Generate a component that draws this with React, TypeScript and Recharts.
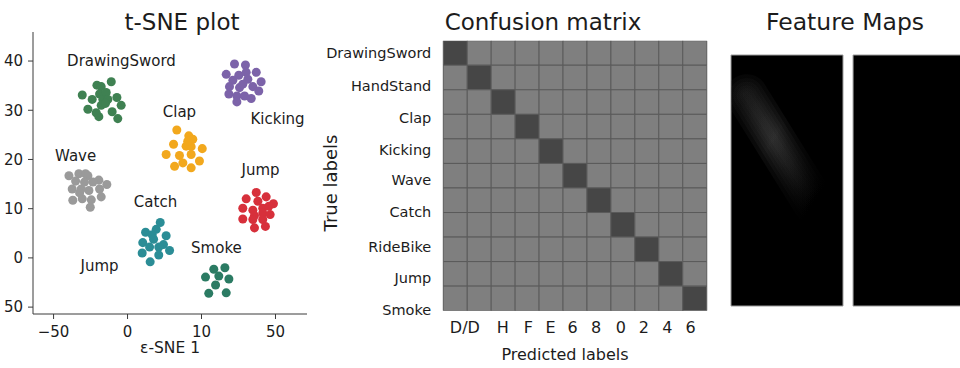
import {
  Bar,
  BarChart,
  Cell,
  ComposedChart,
  Line,
  ReferenceArea,
  Scatter,
  ScatterChart,
  XAxis,
  YAxis,
  ZAxis,
} from 'recharts';

// t-SNE clusters
const DRAWING_SWORD = [
  [-30.6, 33.1], [-26.8, 30.2], [-23.9, 32.2], [-20.7, 35.1], [-17.8, 34.8], [-18.9, 33.3],
  [-14.4, 33.6], [-11.0, 35.8], [-16.7, 32.2], [-13.3, 32.2], [-7.2, 32.6], [-4.3, 31.0],
  [-10.4, 29.7], [-6.6, 28.3], [-19.4, 28.7], [-17.8, 31.0], [-21.2, 29.5], [-14.9, 31.4],
];
const KICKING = [
  [72.3, 39.4], [79.7, 39.2], [66.7, 37.3], [71.2, 36.1], [75.2, 37.1], [80.2, 37.7],
  [87.0, 37.7], [68.9, 34.8], [75.7, 34.6], [81.3, 36.3], [84.7, 34.8], [90.3, 35.8],
  [88.7, 33.9], [68.5, 33.3], [73.9, 32.9], [79.1, 32.9], [83.6, 32.4], [73.9, 31.7], [77.9, 35.3],
];
const CLAP = [
  [33.3, 26.0], [41.4, 24.8], [44.1, 24.1], [31.1, 23.1], [39.6, 22.7], [43.0, 22.6],
  [50.5, 22.2], [26.1, 21.0], [35.1, 20.8], [43.0, 21.0], [48.6, 19.7], [31.8, 18.6],
  [37.4, 19.3], [43.0, 18.3], [40.7, 23.7],
];
const WAVE = [
  [-39.6, 16.7], [-32.9, 17.1], [-28.4, 17.1], [-26.8, 16.7], [-19.4, 15.8], [-14.0, 14.9],
  [-35.1, 15.6], [-29.1, 15.4], [-23.4, 15.4], [-37.4, 14.0], [-31.3, 14.0], [-26.1, 13.7],
  [-18.9, 14.0], [-37.0, 11.7], [-30.6, 12.0], [-24.5, 11.8], [-17.8, 12.4], [-25.2, 10.3], [-32.4, 13.2],
];
const JUMP = [
  [87.0, 13.3], [93.7, 12.4], [80.2, 12.0], [88.1, 11.5], [98.6, 11.0], [77.9, 10.1],
  [84.7, 9.7], [91.4, 10.1], [95.5, 10.5], [85.8, 8.6], [91.4, 9.1], [96.4, 8.8],
  [77.9, 7.9], [84.7, 7.8], [91.4, 7.8], [85.8, 6.1], [93.2, 6.4],
];
const CATCH = [
  [22.1, 7.2], [19.4, 5.8], [12.2, 5.2], [16.7, 4.7], [26.1, 4.5], [10.3, 3.1], [17.6, 3.8],
  [24.3, 2.7], [14.9, 2.2], [21.1, 2.2], [28.4, 1.5], [9.9, 1.0], [21.1, 0.6], [15.3, -0.8],
];
const SMOKE = [
  [58.3, -2.3], [65.8, -2.0], [52.7, -3.9], [61.7, -3.7], [68.5, -4.3], [59.5, -5.5],
  [54.9, -7.2], [66.7, -7.1],
];

const CLUSTER_NAMES = ['DrawingSword', 'Kicking', 'Clap', 'Wave', 'Jump', 'Catch', 'Smoke'];
const CLUSTER_COLORS = ['#3f8152', '#7c63a9', '#f2a81d', '#9a9a9a', '#d7303b', '#2b8d96', '#2b7b63'];
const CLUSTER_POINTS = [DRAWING_SWORD, KICKING, CLAP, WAVE, JUMP, CATCH, SMOKE];

const TSNE_LABELS = [
  { name: 'DrawingSword', x: -4.1, y: 40.0 },
  { name: 'Clap', x: 35.1, y: 29.6 },
  { name: 'Kicking', x: 101.4, y: 28.2 },
  { name: 'Wave', x: -35.1, y: 20.8 },
  { name: 'Jump', x: 89.9, y: 17.8 },
  { name: 'Catch', x: 18.9, y: 11.4 },
  { name: 'Smoke', x: 60.1, y: 2.0 },
  { name: 'Jump', x: -18.9, y: -1.6 },
];

const TSNE_X_TICKS = [-50, 0, 50, 100];
const TSNE_X_LABELS = ['\u221250', '0', '10', '50'];
const TSNE_Y_TICKS = [-10, 0, 10, 20, 30, 40];
const TSNE_Y_LABELS = ['50', '0', '10', '20', '30', '40'];

// confusion matrix (1 = strong, 0 = weak)
const MATRIX = [
  [1, 0, 0, 0, 0, 0, 0, 0, 0, 0, 0],
  [0, 1, 0, 0, 0, 0, 0, 0, 0, 0, 0],
  [0, 0, 1, 0, 0, 0, 0, 0, 0, 0, 0],
  [0, 0, 0, 1, 0, 0, 0, 0, 0, 0, 0],
  [0, 0, 0, 0, 1, 0, 0, 0, 0, 0, 0],
  [0, 0, 0, 0, 0, 1, 0, 0, 0, 0, 0],
  [0, 0, 0, 0, 0, 0, 1, 0, 0, 0, 0],
  [0, 0, 0, 0, 0, 0, 0, 1, 0, 0, 0],
  [0, 0, 0, 0, 0, 0, 0, 0, 1, 0, 0],
  [0, 0, 0, 0, 0, 0, 0, 0, 0, 1, 0],
  [0, 0, 0, 0, 0, 0, 0, 0, 0, 0, 1],
];
const ROW_LABELS = ['DrawingSword', 'HandStand', 'Clap', 'Kicking', 'Wave', 'Catch', 'RideBike', 'Jump', 'Smoke'];
const ROW_LABEL_POS = [0.51, 1.85, 3.16, 4.45, 5.67, 6.99, 8.39, 9.68, 10.97];
const COL_LABELS = ['D/D', 'H', 'F', 'E', '6', '8', '0', '2', '4', '6'];
const COL_LABEL_POS = [0.9, 2.48, 3.55, 4.48, 5.4, 6.38, 7.41, 8.38, 9.36, 10.33];

// feature map glow streak
const GLOW = [
  { x: 0.14, y: 0.84 },
  { x: 0.74, y: 0.41 },
];
// soft edge: same streak drawn several times, wide to narrow
const GLOW_WIDTHS = [42, 34, 27, 20, 14, 8];

const FONT = '"DejaVu Sans", sans-serif';
const INK = '#1c1c1c';
const AXIS = '#3a3a3a';
const CELL_DARK = '#464646';
const CELL_LIGHT = '#7f7f7f';

const cmData = MATRIX[0].map((_, c) => {
  const row: Record<string, number> = { col: c };
  MATRIX.forEach((_r, r) => {
    row[`r${r}`] = 1;
  });
  return row;
});

function Caption({ x, y, size, text, rotate = 0 }: { x: number; y: number; size: number; text: string; rotate?: number }) {
  return (
    <div
      style={{
        position: 'absolute',
        left: x,
        top: y,
        transform: `translate(-50%, -50%) rotate(${rotate}deg)`,
        fontSize: size,
        lineHeight: 1,
        whiteSpace: 'nowrap',
        color: INK,
      }}
    >
      {text}
    </div>
  );
}

function TsnePlot() {
  return (
    <div style={{ position: 'absolute', left: 0, top: 0 }}>
      <ScatterChart width={320} height={368} margin={{ top: 32, right: 13, bottom: 0, left: 0 }}>
        <XAxis
          type="number"
          dataKey="x"
          domain={[-63.9, 121.3]}
          allowDataOverflow
          ticks={TSNE_X_TICKS}
          interval={0}
          height={54}
          tickSize={5}
          tickMargin={7}
          stroke={AXIS}
          tick={{ fontSize: 15, fill: INK, fontFamily: FONT }}
          tickFormatter={(v) => TSNE_X_LABELS[TSNE_X_TICKS.indexOf(v)]}
        />
        <YAxis
          type="number"
          dataKey="y"
          domain={[-11.4, 45.9]}
          allowDataOverflow
          ticks={TSNE_Y_TICKS}
          interval={0}
          width={33}
          tickSize={5}
          tickMargin={5}
          stroke={AXIS}
          tick={{ fontSize: 15, fill: INK, fontFamily: FONT }}
          tickFormatter={(v) => TSNE_Y_LABELS[TSNE_Y_TICKS.indexOf(v)]}
        />
        <ZAxis range={[40, 40]} />
        {CLUSTER_POINTS.map((pts, i) => (
          <Scatter
            key={CLUSTER_NAMES[i]}
            name={CLUSTER_NAMES[i]}
            data={pts.map(([x, y]) => ({ x, y }))}
            fill={CLUSTER_COLORS[i]}
            isAnimationActive={false}
          />
        ))}
        <Scatter
          data={TSNE_LABELS}
          isAnimationActive={false}
          shape={(p: any) => (
            <text
              x={p.cx}
              y={p.cy}
              textAnchor="middle"
              dominantBaseline="central"
              fontSize={15}
              fontFamily={FONT}
              fill={INK}
            >
              {p.payload.name}
            </text>
          )}
        />
      </ScatterChart>
    </div>
  );
}

function ConfusionMatrix() {
  return (
    <div style={{ position: 'absolute', left: 300, top: 0 }}>
      <BarChart
        width={420}
        height={368}
        data={cmData}
        margin={{ top: 40.7, right: 13.3, bottom: 0, left: 0 }}
        barCategoryGap={0}
        barGap={0}
      >
        <XAxis xAxisId="cat" dataKey="col" hide height={0} />
        <XAxis
          xAxisId="lbl"
          type="number"
          dataKey="col"
          domain={[0, 'dataMax + 1']}
          allowDataOverflow
          ticks={COL_LABEL_POS}
          interval={0}
          height={57.3}
          axisLine={false}
          tickLine={false}
          tickSize={0}
          tickMargin={11}
          tick={{ fontSize: 16, fill: INK, fontFamily: FONT }}
          tickFormatter={(v) => COL_LABELS[COL_LABEL_POS.indexOf(v)]}
        />
        <YAxis
          type="number"
          domain={[0, 11]}
          allowDataOverflow
          reversed
          ticks={ROW_LABEL_POS}
          interval={0}
          width={143.3}
          axisLine={false}
          tickLine={false}
          tickSize={0}
          tickMargin={12}
          tick={{ fontSize: 14.5, fill: INK, fontFamily: FONT }}
          tickFormatter={(v) => ROW_LABELS[ROW_LABEL_POS.indexOf(v)]}
        />
        {MATRIX.map((row, r) => (
          <Bar
            key={r}
            xAxisId="cat"
            dataKey={`r${r}`}
            stackId="cm"
            stroke="#5a5a5a"
            strokeWidth={1}
            isAnimationActive={false}
          >
            {row.map((v, c) => (
              <Cell key={c} fill={v ? CELL_DARK : CELL_LIGHT} />
            ))}
          </Bar>
        ))}
      </BarChart>
    </div>
  );
}

function FeatureMaps() {
  return (
    <div style={{ position: 'absolute', left: 729.7, top: 54 }}>
      <ComposedChart width={242} height={253} data={GLOW} margin={{ top: 1, right: 0, bottom: 1, left: 1 }}>
        <defs>
          <linearGradient id="fmStreak" x1="0" y1="0" x2="1" y2="1">
            <stop offset="0%" stopColor="#262626" />
            <stop offset="40%" stopColor="#444444" />
            <stop offset="100%" stopColor="#000000" />
          </linearGradient>
        </defs>
        <XAxis type="number" dataKey="x" domain={[0, 2.152]} allowDataOverflow hide />
        <YAxis type="number" domain={[0, 1]} allowDataOverflow hide />
        <ReferenceArea x1={0} x2={1} y1={0} y2={1} fill="#000" fillOpacity={1} stroke="#9a9a9a" strokeWidth={1} ifOverflow="visible" />
        <ReferenceArea x1={1.09} x2={2.09} y1={0} y2={1} fill="#000" fillOpacity={1} stroke="#9a9a9a" strokeWidth={1} ifOverflow="visible" />
        {GLOW_WIDTHS.map((w) => (
          <Line
            key={w}
            dataKey="y"
            stroke="url(#fmStreak)"
            strokeOpacity={0.17}
            strokeWidth={w}
            strokeLinecap="round"
            dot={false}
            isAnimationActive={false}
          />
        ))}
      </ComposedChart>
    </div>
  );
}

export default function App() {
  return (
    <div
      style={{
        position: 'absolute',
        left: 0,
        top: 0,
        width: 960,
        height: 368,
        overflow: 'hidden',
        background: '#fff',
        fontFamily: FONT,
      }}
    >
      <TsnePlot />
      <ConfusionMatrix />
      <FeatureMaps />
      <Caption x={182} y={22} size={23} text="t-SNE plot" />
      <Caption x={170} y={349} size={15.5} text="ε-SNE 1" />
      <Caption x={543} y={22} size={23} text="Confusion matrix" />
      <Caption x={331} y={183} size={18} text="True labels" rotate={-90} />
      <Caption x={565} y={355} size={16} text="Predicted labels" />
      <Caption x={845} y={23} size={23.5} text="Feature Maps" />
    </div>
  );
}
